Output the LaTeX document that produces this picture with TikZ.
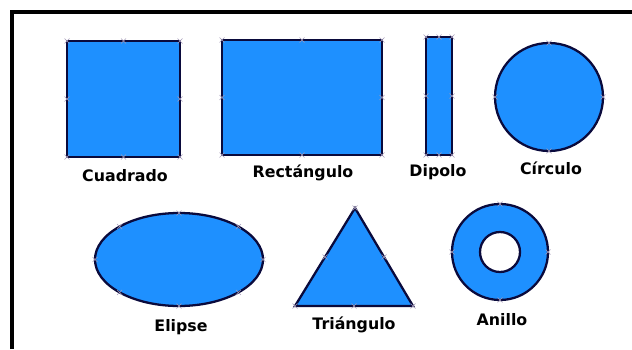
\documentclass[tikz,border=0pt]{standalone}
\usepackage{fontspec}
\setmainfont{DejaVu Sans}
\usetikzlibrary{positioning}
\definecolor{azulfig}{RGB}{30,144,255}
\definecolor{bordefig}{RGB}{10,10,60}
\definecolor{grisasa}{RGB}{165,155,185}

\begin{document}
\begin{tikzpicture}[x=0.02cm, y=0.02cm,
    figura/.style={fill=azulfig, draw=bordefig, line width=1.3pt},
    etiqueta/.style={font=\bfseries\fontsize{9}{10}\selectfont, inner sep=0pt},
    asa/.style={draw=grisasa, line width=0.3pt}]
	\useasboundingbox (0,0) rectangle (632,349);
	
	% Marco
	\draw[line width=2.3pt] (12,0) -- (12,337) -- (632,337);
	
	% Figuras de la fila superior
	\draw[figura] (67,192) rectangle (180,308);
	\draw[figura] (222,194) rectangle (382,309);
	\draw[figura] (426,194) rectangle (452,312);
	\draw[figura] (549,252) circle (54);
	
	% Figuras de la fila inferior
	\draw[figura] (179,89.5) ellipse (84 and 46.5);
	\draw[figura] (355,141) -- (413,43) -- (295,43) -- cycle;
	\draw[figura, even odd rule] (500,97) circle (48) (500,97) circle (20);
	
	% Asas de seleccion
	\foreach \p in {(67,308),(123.5,308),(180,308),(67,250),(180,250),(67,192),(123.5,192),(180,192),
	                (222,309),(302,309),(382,309),(222,251.5),(382,251.5),(222,194),(302,194),(382,194),
	                (426,312),(439,312),(452,312),(426,253),(452,253),(426,194),(439,194),(452,194),
	                (495,252),(603,252),(549,306),(549,198),
	                (95,89.5),(263,89.5),(179,136),(179,43),(119.6,122.4),(238.4,122.4),(119.6,56.6),(238.4,56.6),
	                (355,141),(295,43),(413,43),(354,43),(325,92),(384,92),
	                (452,97),(548,97),(500,145),(500,49)}
		\draw[asa] \p +(-2.5,-2.5) -- +(2.5,2.5) +(-2.5,2.5) -- +(2.5,-2.5);
	
	% Etiquetas
	\node[etiqueta] (cuadrado) at (125,173) {Cuadrado};
	\node[etiqueta] (rectangulo) at (303,176) {Rectángulo};
	\node[etiqueta] (dipolo) at (438,177) {Dipolo};
	\node[etiqueta] (circulo) at (551,181) {Círculo};
	\node[etiqueta] (elipse) at (181,22) {Elipse};
	\node[etiqueta] (triangulo) at (354,24) {Triángulo};
	\node[etiqueta] (anillo) at (502,29) {Anillo};
	
\end{tikzpicture}
\end{document}
